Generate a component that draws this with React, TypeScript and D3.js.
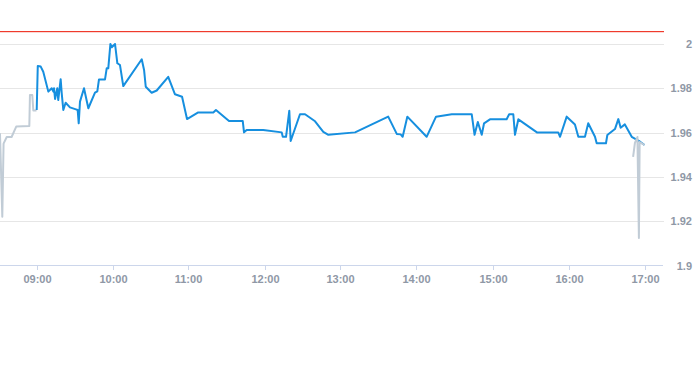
import React from "react";
import * as d3 from "d3";

const W = 693;
const H = 365;

const preTimes = ["08:31:10", "08:33:00", "08:34:00", "08:36:30", "08:40:20", "08:44:00", "08:54:20", "08:54:50", "08:56:40", "08:57:30", "09:00:00"];
const preValues = [1.9597, 1.922, 1.955, 1.958, 1.958, 1.9627, 1.963, 1.977, 1.977, 1.970, 1.970];

const mainTimes = [
  "09:00:10", "09:01:00", "09:03:20", "09:05:20", "09:09:20", "09:12:00", "09:13:20", "09:13:50", "09:14:40", "09:16:25",
  "09:17:10", "09:19:05", "09:19:55", "09:21:10", "09:23:00", "09:26:25", "09:31:10", "09:32:30", "09:33:20", "09:34:20",
  "09:37:30", "09:40:55", "09:46:10", "09:48:00", "09:49:20", "09:54:05", "09:55:25", "09:56:40", "09:58:20", "09:59:25",
  "10:02:00", "10:03:50", "10:05:55", "10:08:30", "10:23:05", "10:24:55", "10:26:15", "10:30:55", "10:34:55", "10:44:00",
  "10:49:20", "10:54:55", "10:58:50", "11:07:40", "11:19:35", "11:21:40", "11:32:00", "11:42:50", "11:43:50", "11:45:55",
  "11:59:00", "12:13:35", "12:14:25", "12:17:00", "12:19:35", "12:20:40", "12:28:00", "12:32:00", "12:39:55", "12:46:25",
  "12:50:25", "13:11:30", "13:37:40", "13:44:25", "13:47:30", "13:49:05", "13:52:45", "14:08:00", "14:15:25", "14:27:50",
  "14:43:35", "14:45:50", "14:48:25", "14:51:30", "14:53:20", "14:58:00", "15:11:10", "15:13:10", "15:16:25", "15:17:45",
  "15:20:25", "15:35:05", "15:51:55", "15:53:20", "15:58:35", "16:05:05", "16:07:45", "16:13:00", "16:15:35", "16:20:55",
  "16:22:15", "16:29:35", "16:30:40", "16:36:40", "16:39:20", "16:41:10", "16:44:30", "16:49:55", "16:56:30", "17:00:00"
];
const mainValues = [
  1.9702, 1.9901, 1.9898, 1.9875, 1.9785, 1.9800, 1.9785, 1.9800, 1.9752, 1.9800,
  1.9747, 1.9841, 1.9777, 1.9702, 1.9735, 1.9714, 1.9705, 1.9702, 1.9642, 1.9740,
  1.9800, 1.9710, 1.9780, 1.9786, 1.9840, 1.9840, 1.9890, 1.9890, 2.0000, 1.9985,
  2.0000, 1.9913, 1.9905, 1.9810, 1.9931, 1.9883, 1.9807, 1.9780, 1.9790, 1.9852,
  1.9773, 1.9762, 1.9661, 1.9691, 1.9691, 1.9702, 1.9652, 1.9652, 1.9601, 1.9612,
  1.9612, 1.9601, 1.9581, 1.9581, 1.9699, 1.9562, 1.9683, 1.9683, 1.9651, 1.9603,
  1.9590, 1.9601, 1.9672, 1.9594, 1.9592, 1.9581, 1.9672, 1.9581, 1.9672, 1.9683,
  1.9683, 1.9590, 1.9648, 1.9590, 1.9642, 1.9660, 1.9660, 1.9683, 1.9683, 1.9590,
  1.9660, 1.9601, 1.9601, 1.9581, 1.9672, 1.9637, 1.9581, 1.9581, 1.9642, 1.9581,
  1.9552, 1.9552, 1.9589, 1.9616, 1.9661, 1.9622, 1.9637, 1.9581, 1.9559, 1.9544
];

const postTimes = ["16:51:00", "16:52:25", "16:54:25", "16:55:35", "16:56:10", "17:00:00"];
const postValues = [1.949, 1.9553, 1.958, 1.9124, 1.9557, 1.9544];

const prevClose = 2.006;
const yTicks = [1.9, 1.92, 1.94, 1.96, 1.98, 2];
const xTickLabels = ["09:00", "10:00", "11:00", "12:00", "13:00", "14:00", "15:00", "16:00", "17:00"];

const parse = d3.timeParse("%H:%M:%S");
const parseHM = d3.timeParse("%H:%M");

export default function App() {
  const x = d3.scaleTime().domain([parseHM("08:30")!, parseHM("17:15")!]).range([-1.5, 663.5]);
  const y = d3.scaleLinear().domain([1.9, 2.0]).range([265.5, 44]);
  const plotRight = 664;

  const line = d3
    .line<[string, number]>()
    .x((d) => x(parse(d[0])!))
    .y((d) => y(d[1]));

  const pre = preTimes.map((t, i) => [t, preValues[i]] as [string, number]);
  const main = mainTimes.map((t, i) => [t, mainValues[i]] as [string, number]);
  const post = postTimes.map((t, i) => [t, postValues[i]] as [string, number]);

  const font = "'Liberation Sans', Arial, sans-serif";
  const redY = Math.round(y(prevClose)) + 0.5;

  return (
    <svg width={W} height={H} style={{ position: "absolute", left: 0, top: 0, background: "#fff" }}>
      <defs>
        <clipPath id="plot">
          <rect x={0} y={0} width={plotRight} height={H} />
        </clipPath>
      </defs>
      {yTicks.slice(1).map((v) => (
        <line key={v} x1={0} x2={plotRight} y1={Math.round(y(v)) + 0.5} y2={Math.round(y(v)) + 0.5} stroke="#e6e6e6" strokeWidth={1} />
      ))}
      <line x1={0} x2={plotRight - 1} y1={265.5} y2={265.5} stroke="#ccd6eb" strokeWidth={1} />
      {xTickLabels.map((t) => {
        const xv = Math.round(x(parseHM(t)!)) + 0.5;
        return (
          <g key={t}>
            <line x1={xv} x2={xv} y1={265.5} y2={270} stroke="#ccd6eb" strokeWidth={1} />
            <text x={xv} y={283} textAnchor="middle" fontFamily={font} fontSize={11} fontWeight="bold" fill="#8f98a6">
              {t}
            </text>
          </g>
        );
      })}
      {yTicks.map((v) => (
        <text key={v} x={692} y={y(v) + 4} textAnchor="end" fontFamily={font} fontSize={11} fontWeight="bold" fill="#8f98a6">
          {d3.format("~g")(v)}
        </text>
      ))}
      <rect x={0} y={redY - 0.5} width={plotRight} height={1.2} fill="#ef3b2c" />
      <g clipPath="url(#plot)">
        <path d={line(pre)!} fill="none" stroke="#c1ccd6" strokeWidth={2} strokeLinejoin="round" />
        <path d={line(main)!} fill="none" stroke="#168fdf" strokeWidth={2} strokeLinejoin="round" />
        <path d={line(post)!} fill="none" stroke="#c1ccd6" strokeWidth={2} strokeLinejoin="round" />
      </g>
    </svg>
  );
}
